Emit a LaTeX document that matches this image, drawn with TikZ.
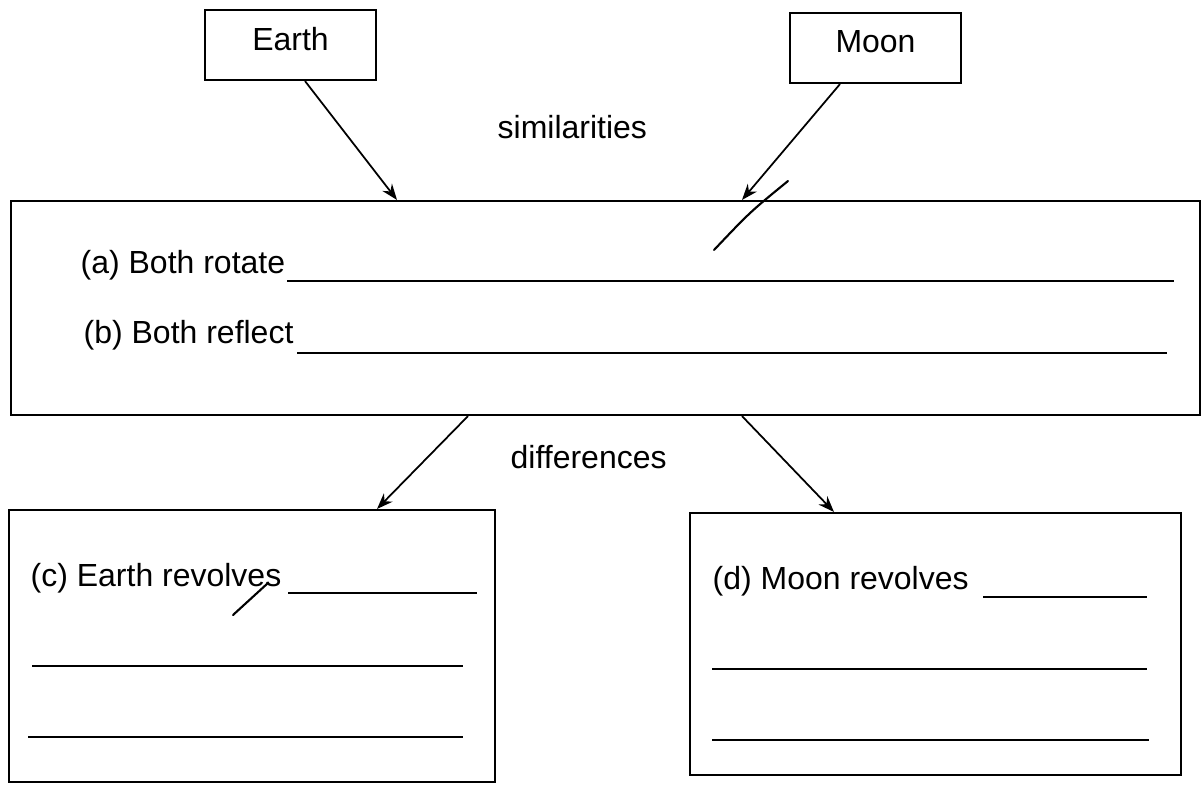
\documentclass[tikz,border=0pt]{standalone}
\usepackage{fontspec}
\setmainfont{Liberation Sans}
\usetikzlibrary{arrows.meta,positioning,calc}
\newcommand{\sheetfont}{\fontsize{9.1pt}{11pt}\selectfont}
\tikzset{
  box/.style={rectangle, draw=black, line width=0.6pt, inner sep=0pt, font=\sheetfont},
  topbox/.style={box, minimum width=17.1mm, minimum height=7mm, text depth=1.3mm},
  lbl/.style={inner sep=0pt, anchor=base west, font=\sheetfont},
  blank/.style={draw=black, line width=0.7pt},
  ar/.style={-{Stealth[length=1.6mm,width=1.2mm]}, draw=black, line width=0.5pt},
  pen/.style={draw=black, line width=0.6pt, line cap=round},
}

\begin{document}
\begin{tikzpicture}[x=0.1mm, y=-0.1mm]
\useasboundingbox (0,0) rectangle (1203,784);

\node[topbox] (earth) at (290.5,45) {Earth};
\node[topbox] (moon) at (875.5,48) {Moon};
\node[lbl] (sim) at (497,138) {similarities};

\node[box, minimum width=118.9mm, minimum height=21.4mm] (both) at (605.5,308) {};
\node[lbl] (qa) at (80,273) {(a) Both rotate};
\node[lbl] (qb) at (83,343) {(b) Both reflect};
\draw[blank] (287,281) -- (1174,281);
\draw[blank] (297,353) -- (1167,353);

\node[lbl] (dif) at (510,468) {differences};

\node[box, minimum width=48.6mm, minimum height=27.2mm] (earthrev) at (252,646) {};
\node[box, minimum width=49.1mm, minimum height=26.2mm] (moonrev) at (935.5,644) {};
\node[lbl] (qc) at (30,586) {(c) Earth revolves};
\node[lbl] (qd) at (712,589) {(d) Moon revolves};
\draw[blank] (288,593) -- (477,593);
\draw[blank] (32,666) -- (463,666);
\draw[blank] (28,737) -- (463,737);
\draw[blank] (983,597) -- (1147,597);
\draw[blank] (712,669) -- (1147,669);
\draw[blank] (712,740) -- (1149,740);

% arrows into and out of the middle box
\draw[ar] ([xshift=1.45mm]earth.south) -- ([xshift=-20.85mm]both.north);
\draw[ar] ([xshift=-3.55mm]moon.south) -- ([xshift=13.65mm]both.north);
\draw[ar] ([xshift=-13.75mm]both.south) -- ([xshift=12.5mm]earthrev.north);
\draw[ar] ([xshift=13.65mm]both.south) -- ([xshift=-10.15mm]moonrev.north);

% pen marks
\draw[pen] (788,181) .. controls (750,212) .. (714,250);
\draw[pen] (268,583) -- (233,615);
\end{tikzpicture}
\end{document}
